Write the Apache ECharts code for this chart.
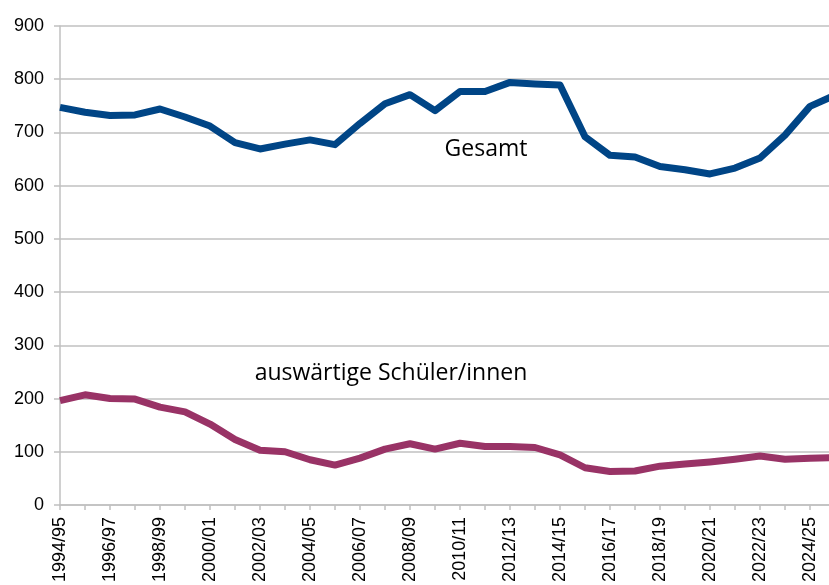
<!DOCTYPE html>
<html>
<head>
<meta charset="utf-8">
<script src="https://cdn.jsdelivr.net/npm/echarts@6/dist/echarts.min.js"></script>
<style>
  html, body { margin: 0; padding: 0; background: #fff; }
  #chart { width: 829px; height: 585px; }
</style>
</head>
<body>
<div id="chart"></div>
<script>
const years = [
  "1994/95", "1995/96", "1996/97", "1997/98", "1998/99", "1999/00", "2000/01", "2001/02",
  "2002/03", "2003/04", "2004/05", "2005/06", "2006/07", "2007/08", "2008/09", "2009/10",
  "2010/11", "2011/12", "2012/13", "2013/14", "2014/15", "2015/16", "2016/17", "2017/18",
  "2018/19", "2019/20", "2020/21", "2021/22", "2022/23", "2023/24", "2024/25", "2025/26"
];
const gesamt = [
  747, 738, 732, 733, 744, 729, 712, 681,
  669, 678, 686, 677, 717, 754, 771, 741,
  777, 777, 794, 791, 789, 692, 657, 654,
  636, 630, 622, 633, 652, 695, 749, 770
];
const auswaertige = [
  196, 207, 200, 199, 184, 175, 152, 123,
  103, 100, 85, 75, 88, 105, 115, 105,
  116, 110, 110, 108, 94, 70, 63, 64,
  73, 77, 81, 86, 92, 86, 88, 89
];

const gridGray = "#c0c0c0";
const axisFont = "'Liberation Sans', Arial, sans-serif";
const labelFont = "'Open Sans', 'Noto Sans', sans-serif";

const myChart = echarts.init(document.getElementById("chart"));

const option = {
  backgroundColor: "#fff",
  animation: false,
  grid: {
    left: 60,
    top: 26,
    width: 775,
    bottom: 80,
    outerBoundsMode: "none"
  },
  xAxis: {
    type: "category",
    boundaryGap: false,
    data: years,
    axisLine: { lineStyle: { color: gridGray, width: 1.5 } },
    axisTick: { show: true, interval: 0, length: 5, lineStyle: { color: gridGray, width: 1.5 } },
    axisLabel: {
      interval: 1,
      rotate: 90,
      margin: 12,
      color: "#000",
      fontFamily: axisFont,
      fontSize: 18
    },
    splitLine: { show: false }
  },
  yAxis: {
    type: "value",
    min: 0,
    max: 900,
    interval: 100,
    axisLine: { show: true, lineStyle: { color: gridGray, width: 1.5 } },
    axisTick: { show: true, length: 6, lineStyle: { color: gridGray, width: 1.5 } },
    axisLabel: {
      margin: 16,
      color: "#000",
      fontFamily: axisFont,
      fontSize: 18
    },
    splitLine: { lineStyle: { color: gridGray, width: 1.5 } }
  },
  graphic: {
    z: 1,
    elements: [
      {
        type: "rect",
        shape: { x: 428, y: 118, width: 124, height: 62 },
        style: { fill: "#fff" }
      },
      {
        type: "text",
        x: 486,
        y: 149,
        style: {
          text: "Gesamt",
          fill: "#000",
          font: "23px " + labelFont,
          align: "center",
          verticalAlign: "middle"
        }
      },
      {
        type: "text",
        x: 391,
        y: 373,
        style: {
          text: "auswärtige Schüler/innen",
          fill: "#000",
          font: "23px " + labelFont,
          align: "center",
          verticalAlign: "middle"
        }
      }
    ]
  },
  series: [
    {
      name: "Gesamt",
      type: "line",
      data: gesamt,
      showSymbol: false,
      lineStyle: { color: "#004586", width: 7, join: "round" },
      itemStyle: { color: "#004586" }
    },
    {
      name: "auswärtige Schüler/innen",
      type: "line",
      data: auswaertige,
      showSymbol: false,
      lineStyle: { color: "#993366", width: 7, join: "round" },
      itemStyle: { color: "#993366" }
    }
  ]
};
myChart.setOption(option);
</script>
</body>
</html>
